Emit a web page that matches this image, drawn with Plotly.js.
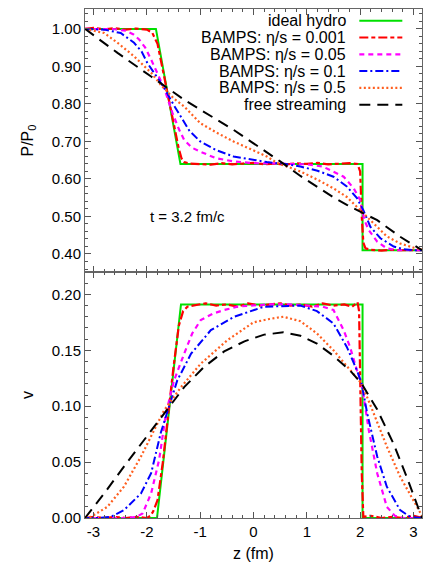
<!DOCTYPE html>
<html>
<head>
<meta charset="utf-8">
<script src="https://cdn.plot.ly/plotly-3.0.1.min.js"></script>
<style>
  html, body { margin: 0; padding: 0; background: #ffffff; }
  #chart { width: 436px; height: 568px; }
</style>
</head>
<body>
<div id="chart"></div>
<script>
// ---------- data ----------
const seriesNames = [
  "ideal hydro",
  "BAMPS: \u03b7/s = 0.001",
  "BAMPS: \u03b7/s = 0.05",
  "BAMPS: \u03b7/s = 0.1",
  "BAMPS: \u03b7/s = 0.5",
  "free streaming"
];

// top panel: P/P0 vs z (fm)
const zHydroP = [-3.16, -1.83, -1.37, 2.045, 2.045, 3.16];
const pHydro  = [1.0, 1.0, 0.64, 0.64, 0.41, 0.41];

const zEta001P = [-3.16, -3.0, -2.8, -2.6, -2.4, -2.2, -2.0, -1.9, -1.8, -1.7, -1.6, -1.5, -1.4, -1.35, -1.3, -1.2, -1.0, -0.8, -0.6, -0.4, -0.2, 0.0, 0.2, 0.4, 0.6, 0.8, 1.0, 1.2, 1.4, 1.6, 1.8, 1.95, 2.0, 2.03, 2.06, 2.1, 2.2, 2.4, 2.6, 2.8, 3.0, 3.16];
const pEta001  = [1.0, 1.003, 0.999, 1.002, 0.998, 1.001, 0.998, 0.99, 0.96, 0.89, 0.82, 0.75, 0.68, 0.655, 0.645, 0.641, 0.64, 0.638, 0.642, 0.639, 0.641, 0.643, 0.639, 0.641, 0.638, 0.642, 0.64, 0.643, 0.639, 0.641, 0.642, 0.64, 0.62, 0.5, 0.43, 0.415, 0.411, 0.409, 0.411, 0.41, 0.409, 0.41];

const zEta005P = [-3.16, -2.8, -2.6, -2.4, -2.25, -2.14, -2.03, -1.92, -1.8, -1.675, -1.52, -1.4, -1.3, -1.15, -1.0, -0.7, -0.375, 0.0, 0.5, 1.0, 1.3, 1.5, 1.69, 1.88, 2.0, 2.08, 2.16, 2.32, 2.5, 2.7, 3.0, 3.16];
const pEta005  = [1.0, 1.0, 0.999, 0.995, 0.985, 0.971, 0.95, 0.918, 0.88, 0.842, 0.776, 0.733, 0.704, 0.683, 0.673, 0.655, 0.647, 0.642, 0.641, 0.639, 0.633, 0.62, 0.606, 0.575, 0.544, 0.49, 0.464, 0.433, 0.415, 0.41, 0.41, 0.41];

const zEta01P = [-3.16, -2.8, -2.49, -2.24, -2.1, -1.99, -1.85, -1.675, -1.5, -1.36, -1.2, -1.0, -0.7, -0.375, 0.0, 0.25, 0.6, 0.88, 1.2, 1.5, 1.75, 1.94, 2.06, 2.19, 2.38, 2.63, 2.8, 3.0, 3.16];
const pEta01  = [1.0, 0.998, 0.989, 0.963, 0.94, 0.909, 0.88, 0.843, 0.798, 0.767, 0.728, 0.70, 0.677, 0.66, 0.65, 0.645, 0.64, 0.633, 0.622, 0.606, 0.58, 0.549, 0.517, 0.473, 0.442, 0.42, 0.413, 0.41, 0.41];

const zEta05P = [-3.16, -3.0, -2.8, -2.55, -2.24, -1.92, -1.74, -1.5, -1.3, -1.0, -0.7, -0.375, 0.0, 0.25, 0.44, 0.88, 1.2, 1.5, 1.75, 1.94, 2.13, 2.3, 2.5, 2.75, 3.0, 3.16];
const pEta05  = [1.0, 0.996, 0.989, 0.963, 0.927, 0.883, 0.851, 0.815, 0.793, 0.749, 0.724, 0.70, 0.676, 0.66, 0.643, 0.62, 0.598, 0.575, 0.552, 0.526, 0.50, 0.474, 0.447, 0.428, 0.417, 0.413];

const zFreeP = [-3.16, -2.55, -1.92, -1.3, -1.0, -0.68, -0.375, 0.0, 0.25, 0.5, 0.88, 1.2, 1.5, 1.75, 2.0, 2.32, 2.75, 3.16];
const pFree  = [1.0, 0.936, 0.873, 0.811, 0.785, 0.758, 0.731, 0.695, 0.671, 0.647, 0.608, 0.578, 0.551, 0.531, 0.513, 0.49, 0.446, 0.41];

// bottom panel: v vs z (fm)
const zHydroV = [-3.16, -1.81, -1.36, 2.045, 2.045, 3.16];
const vHydro  = [0, 0, 0.191, 0.191, 0, 0];

const zEta001V = [-3.16, -3.0, -2.8, -2.6, -2.4, -2.2, -2.0, -1.93, -1.88, -1.8, -1.7, -1.6, -1.5, -1.4, -1.32, -1.24, -1.1, -0.9, -0.7, -0.5, -0.3, -0.1, 0.1, 0.3, 0.5, 0.7, 0.9, 1.1, 1.3, 1.5, 1.7, 1.85, 1.95, 1.98, 2.0, 2.03, 2.06, 2.2, 2.4, 2.6, 2.8, 3.0, 3.16];
const vEta001  = [0, 0.001, 0, 0.001, 0, 0.001, 0, 0.002, 0.006, 0.016, 0.05, 0.093, 0.135, 0.172, 0.185, 0.189, 0.19, 0.192, 0.19, 0.191, 0.189, 0.192, 0.19, 0.191, 0.192, 0.19, 0.191, 0.189, 0.192, 0.19, 0.191, 0.189, 0.193, 0.185, 0.12, 0.04, 0.001, 0.002, 0, 0.001, 0, 0.002, 0];

const zEta005V = [-3.16, -2.7, -2.4, -2.2, -2.08, -1.92, -1.77, -1.64, -1.49, -1.3, -1.15, -0.99, -0.75, -0.55, -0.3, -0.05, 0.3, 0.7, 1.1, 1.3, 1.5, 1.69, 1.81, 1.94, 2.03, 2.16, 2.32, 2.5, 2.65, 2.8, 3.0, 3.16];
const vEta005  = [0, 0, 0, 0.001, 0.004, 0.022, 0.052, 0.094, 0.123, 0.147, 0.165, 0.177, 0.183, 0.186, 0.189, 0.19, 0.191, 0.191, 0.19, 0.189, 0.186, 0.168, 0.153, 0.132, 0.12, 0.079, 0.04, 0.01, 0.002, 0, 0, 0];

const zEta01V = [-3.16, -2.9, -2.68, -2.43, -2.11, -1.92, -1.74, -1.61, -1.43, -1.17, -0.8, -0.36, 0.2, 0.88, 1.19, 1.5, 1.75, 1.94, 2.03, 2.13, 2.32, 2.5, 2.75, 2.94, 3.16];
const vEta01  = [0, 0, 0.001, 0.007, 0.022, 0.04, 0.076, 0.096, 0.123, 0.147, 0.168, 0.18, 0.189, 0.19, 0.185, 0.174, 0.153, 0.132, 0.12, 0.094, 0.055, 0.028, 0.007, 0.001, 0];

const zEta05V = [-3.16, -3.05, -2.74, -2.43, -2.11, -1.86, -1.68, -1.36, -0.99, -0.49, 0.0, 0.3, 0.56, 0.88, 1.19, 1.5, 1.81, 2.03, 2.25, 2.5, 2.75, 3.0, 3.16];
const vEta05  = [0, 0.001, 0.01, 0.028, 0.055, 0.079, 0.096, 0.117, 0.138, 0.159, 0.175, 0.178, 0.18, 0.176, 0.165, 0.15, 0.132, 0.12, 0.094, 0.064, 0.037, 0.016, 0.002];

const zFreeV = [-3.16, -2.8, -2.43, -2.05, -1.68, -1.3, -0.93, -0.55, -0.17, 0.2, 0.56, 0.88, 1.19, 1.5, 1.81, 2.03, 2.32, 2.63, 2.88, 3.1, 3.16];
const vFree  = [0, 0.022, 0.046, 0.07, 0.094, 0.117, 0.135, 0.149, 0.158, 0.164, 0.166, 0.163, 0.156, 0.145, 0.132, 0.12, 0.097, 0.066, 0.036, 0.008, 0];

const pTickVals = [0.4, 0.5, 0.6, 0.7, 0.8, 0.9, 1.0];
const vTickVals = [0, 0.05, 0.1, 0.15, 0.2];
const zTickVals = [-3, -2, -1, 0, 1, 2, 3];

// ---------- styles ----------
const styles = [
  {color: '#00e000', dash: 'solid', width: 2},
  {color: '#ff0000', dash: '9px,3px,4px,3px', width: 2.2},
  {color: '#ff00ff', dash: '5px,4px', width: 2.2},
  {color: '#0000ff', dash: '8px,3px,2px,3px', width: 2},
  {color: '#ff5f1f', dash: '2px,2.5px', width: 2.2},
  {color: '#000000', dash: '11px,7px', width: 2}
];

const topZ = [zHydroP, zEta001P, zEta005P, zEta01P, zEta05P, zFreeP];
const topY = [pHydro, pEta001, pEta005, pEta01, pEta05, pFree];
const botZ = [zHydroV, zEta001V, zEta005V, zEta01V, zEta05V, zFreeV];
const botY = [vHydro, vEta001, vEta005, vEta01, vEta05, vFree];

const traces = [];
for (let i = 0; i < seriesNames.length; i++) {
  traces.push({x: topZ[i], y: topY[i], xaxis: 'x', yaxis: 'y', type: 'scatter', mode: 'lines',
    name: seriesNames[i], showlegend: false, line: Object.assign({}, styles[i])});
  traces.push({x: botZ[i], y: botY[i], xaxis: 'x2', yaxis: 'y2', type: 'scatter', mode: 'lines',
    name: seriesNames[i], showlegend: false, line: Object.assign({}, styles[i])});
}

// ---------- custom legend (text right-aligned, sample line on its right) ----------
const legendRowsY = [0.977, 0.944, 0.911, 0.878, 0.845, 0.812];
const annotations = [];
const shapes = [];
for (let i = 0; i < seriesNames.length; i++) {
  annotations.push({xref: 'paper', yref: 'paper', x: 0.7795, y: legendRowsY[i],
    xanchor: 'right', yanchor: 'middle', text: seriesNames[i], showarrow: false,
    font: {size: 16, color: '#000'}});
  shapes.push({type: 'line', xref: 'paper', yref: 'paper', x0: 0.814, x1: 0.9416,
    y0: legendRowsY[i], y1: legendRowsY[i], line: Object.assign({}, styles[i])});
}
annotations.push({xref: 'x', yref: 'y', x: -1.97, y: 0.50, xanchor: 'left', yanchor: 'middle',
  text: 't = 3.2 fm/c', showarrow: false, font: {size: 15, color: '#000'}});

const axisCommon = {
  showline: true, linecolor: '#666', linewidth: 1, mirror: 'allticks',
  ticks: 'inside', ticklen: 6, tickcolor: '#555', tickwidth: 1,
  showgrid: false, zeroline: false,
  tickfont: {size: 15, color: '#000'}
};

const split = 0.4833;
const layout = {
  width: 436, height: 568,
  margin: {l: 85, r: 14, t: 9, b: 50},
  paper_bgcolor: '#ffffff', plot_bgcolor: '#ffffff',
  font: {family: 'Liberation Sans, Arial, sans-serif', color: '#000'},
  showlegend: false,
  xaxis: Object.assign({}, axisCommon, {domain: [0, 1], anchor: 'y', range: [-3.16, 3.16],
    tickvals: zTickVals, showticklabels: false,
    minor: {ticks: 'inside', dtick: 0.2, tick0: 0, ticklen: 3, tickcolor: '#555'}}),
  xaxis2: Object.assign({}, axisCommon, {domain: [0, 1], anchor: 'y2', range: [-3.16, 3.16],
    matches: 'x', tickvals: zTickVals, ticktext: zTickVals.map(String),
    minor: {ticks: 'inside', dtick: 0.2, tick0: 0, ticklen: 3, tickcolor: '#555'},
    title: {text: 'z (fm)', font: {size: 16, color: '#000'}, standoff: 8}}),
  yaxis: Object.assign({}, axisCommon, {domain: [split, 1], anchor: 'x', range: [0.352, 1.053],
    tickvals: pTickVals, tickformat: '.2f',
    minor: {ticks: 'inside', dtick: 0.02, tick0: 0, ticklen: 3, tickcolor: '#555'},
    title: {text: 'P/P<sub>0</sub>', font: {size: 16, color: '#000'}, standoff: 14}}),
  yaxis2: Object.assign({}, axisCommon, {domain: [0, split], anchor: 'x2', range: [0, 0.22],
    tickvals: vTickVals, tickformat: '.2f',
    minor: {ticks: 'inside', dtick: 0.01, tick0: 0, ticklen: 3, tickcolor: '#555'},
    title: {text: 'v', font: {size: 16, color: '#000'}, standoff: 14}}),
  annotations: annotations,
  shapes: shapes
};

Plotly.newPlot('chart', traces, layout, {displayModeBar: false, staticPlot: true});
</script>
</body>
</html>
